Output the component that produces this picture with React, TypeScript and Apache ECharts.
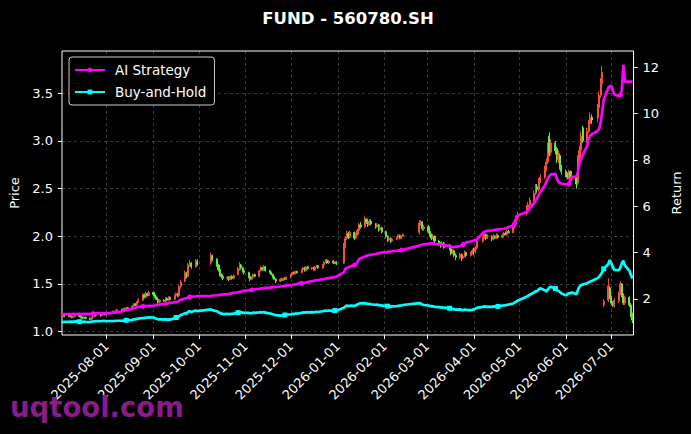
import React, { useEffect, useRef } from 'react';
import * as echarts from 'echarts';

const TITLE = 'FUND - 560780.SH';
const WATERMARK = 'uqtool.com';
const SERIES_AI = 'AI Strategy';
const SERIES_BH = 'Buy-and-Hold';

// trading days, month by month
const months = ['2025-07', '2025-08', '2025-09', '2025-10', '2025-11', '2025-12', '2026-01', '2026-02', '2026-03', '2026-04', '2026-05', '2026-06', '2026-07'];
const monthDays = [
  [2, 3, 4, 7, 8, 9, 10, 11, 14, 15, 16, 17, 18, 21, 22, 23, 24, 25, 28, 29, 30, 31],
  [1, 4, 5, 6, 7, 8, 11, 12, 13, 14, 15, 18, 19, 20, 21, 22, 25, 26, 27, 28, 29],
  [1, 2, 3, 4, 5, 8, 9, 10, 11, 12, 15, 16, 17, 18, 19, 22, 23, 24, 25, 26, 29, 30],
  [9, 10, 13, 14, 15, 16, 17, 20, 21, 22, 23, 24, 27, 28, 29, 30, 31],
  [3, 4, 5, 6, 7, 10, 11, 12, 13, 14, 17, 18, 19, 20, 21, 24, 25, 26, 27, 28],
  [1, 2, 3, 4, 5, 8, 9, 10, 11, 12, 15, 16, 17, 18, 19, 22, 23, 24, 25, 26, 29, 30, 31],
  [5, 6, 7, 8, 9, 12, 13, 14, 15, 16, 19, 20, 21, 22, 23, 26, 27, 28, 29, 30],
  [2, 3, 4, 5, 6, 9, 10, 11, 12, 13, 24, 25, 26, 27],
  [2, 3, 4, 5, 6, 9, 10, 11, 12, 13, 16, 17, 18, 19, 20, 23, 24, 25, 26, 27, 30, 31],
  [1, 2, 3, 7, 8, 9, 10, 13, 14, 15, 16, 17, 20, 21, 22, 23, 24, 27, 28, 29, 30],
  [6, 7, 8, 11, 12, 13, 14, 15, 18, 19, 20, 21, 22, 25, 26, 27, 28, 29],
  [1, 2, 3, 4, 5, 8, 9, 10, 11, 12, 15, 16, 17, 18, 22, 23, 24, 25, 26, 29, 30],
  [1, 2, 3, 6, 7, 8, 9, 10, 13, 14, 15],
];

const opens = [
  1.15, 1.16, 1.17, 1.16, 1.17, 1.16, 1.15, 1.16, 1.17, 1.16, 1.15, 1.14, 1.15, 1.14, 1.13, 1.15, 1.16, 1.17, 1.18, 1.17, 1.18, 1.19,
  1.18, 1.19, 1.20, 1.21, 1.20, 1.22, 1.23, 1.22, 1.24, 1.23, 1.25, 1.24, 1.27, 1.29, 1.28, 1.31, 1.33, 1.39, 1.36, 1.40, 1.38,
  1.41, 1.39, 1.36, 1.34, 1.31, 1.33, 1.32, 1.35, 1.33, 1.36, 1.34, 1.38, 1.40, 1.38, 1.47, 1.53, 1.62, 1.58, 1.70, 1.72, 1.68, 1.74,
  1.72, 1.80, 1.76, 1.70, 1.65, 1.60, 1.58, 1.56, 1.57, 1.55, 1.58, 1.56, 1.60, 1.66, 1.70, 1.67, 1.64,
  1.62, 1.58, 1.55, 1.57, 1.60, 1.58, 1.64, 1.67, 1.65, 1.68, 1.64, 1.62, 1.60, 1.57, 1.55, 1.53, 1.55, 1.54, 1.56, 1.55,
  1.57, 1.60, 1.62, 1.61, 1.63, 1.62, 1.65, 1.67, 1.64, 1.68, 1.66, 1.67, 1.65, 1.68, 1.69, 1.67, 1.70, 1.73, 1.75, 1.72, 1.74, 1.72, 1.73,
  1.72, 1.90, 1.98, 2.03, 1.99, 2.04, 1.98, 2.02, 2.06, 2.12, 2.10, 2.18, 2.15, 2.12, 2.16, 2.13, 2.10, 2.12, 2.07, 2.09,
  2.05, 2.00, 1.96, 1.98, 1.95, 1.97, 1.99, 2.01, 1.98, 2.00, 2.04, 2.14, 2.15, 2.08,
  2.10, 2.05, 2.02, 1.98, 2.00, 1.95, 1.92, 1.90, 1.93, 1.89, 1.91, 1.87, 1.82, 1.85, 1.80, 1.78, 1.81, 1.77, 1.79, 1.83, 1.80, 1.82,
  1.86, 1.84, 1.88, 1.95, 1.99, 2.02, 1.98, 2.00, 1.97, 2.00, 1.98, 2.01, 1.99, 2.01, 2.03, 2.02, 2.05, 2.04, 2.10, 2.15, 2.19,
  2.24, 2.30, 2.33, 2.38, 2.45, 2.52, 2.49, 2.58, 2.62, 2.70, 2.78, 3.05, 2.88, 2.98, 2.92, 2.80, 2.85, 2.72,
  2.68, 2.65, 2.62, 2.68, 2.60, 2.63, 2.56, 2.82, 2.90, 3.14, 3.00, 3.10, 3.18, 3.25, 3.24, 3.35, 3.48, 3.60, 1.28, 1.33, 1.46,
  1.36, 1.30, 1.27, 1.32, 1.40, 1.50, 1.38, 1.30, 1.36, 1.28, 1.18,
];
const closes = [
  1.16, 1.17, 1.16, 1.17, 1.16, 1.15, 1.16, 1.17, 1.16, 1.15, 1.14, 1.15, 1.14, 1.13, 1.15, 1.16, 1.17, 1.18, 1.17, 1.18, 1.19, 1.18,
  1.19, 1.20, 1.21, 1.20, 1.22, 1.23, 1.22, 1.24, 1.23, 1.25, 1.24, 1.27, 1.29, 1.28, 1.31, 1.33, 1.38, 1.36, 1.40, 1.38, 1.41,
  1.39, 1.36, 1.34, 1.31, 1.33, 1.32, 1.35, 1.33, 1.36, 1.34, 1.38, 1.40, 1.37, 1.47, 1.52, 1.62, 1.58, 1.70, 1.72, 1.68, 1.74, 1.71,
  1.80, 1.76, 1.70, 1.65, 1.60, 1.58, 1.56, 1.57, 1.55, 1.58, 1.56, 1.59, 1.66, 1.70, 1.67, 1.64, 1.62,
  1.58, 1.55, 1.57, 1.60, 1.58, 1.64, 1.67, 1.65, 1.68, 1.64, 1.62, 1.60, 1.57, 1.55, 1.53, 1.55, 1.54, 1.56, 1.55, 1.57,
  1.60, 1.62, 1.61, 1.63, 1.62, 1.65, 1.67, 1.64, 1.68, 1.66, 1.67, 1.65, 1.68, 1.69, 1.67, 1.70, 1.73, 1.75, 1.72, 1.74, 1.72, 1.73, 1.71,
  1.90, 1.98, 2.03, 1.99, 2.04, 1.98, 2.02, 2.06, 2.12, 2.10, 2.18, 2.15, 2.12, 2.16, 2.13, 2.10, 2.12, 2.07, 2.09, 2.05,
  2.00, 1.96, 1.98, 1.95, 1.97, 1.99, 2.01, 1.98, 2.00, 2.02, 2.14, 2.15, 2.08, 2.10,
  2.05, 2.02, 1.98, 2.00, 1.95, 1.92, 1.90, 1.93, 1.89, 1.91, 1.87, 1.82, 1.85, 1.80, 1.78, 1.81, 1.77, 1.79, 1.83, 1.80, 1.82, 1.85,
  1.84, 1.88, 1.95, 1.99, 2.02, 1.98, 2.00, 1.97, 2.00, 1.98, 2.01, 1.99, 2.01, 2.03, 2.02, 2.05, 2.04, 2.10, 2.15, 2.19, 2.22,
  2.30, 2.33, 2.38, 2.45, 2.52, 2.49, 2.58, 2.62, 2.70, 2.78, 2.95, 2.88, 2.98, 2.90, 2.80, 2.85, 2.72, 2.68,
  2.65, 2.62, 2.68, 2.60, 2.63, 2.55, 2.82, 2.90, 3.05, 3.00, 3.10, 3.18, 3.25, 3.22, 3.35, 3.48, 3.60, 3.72, 1.32, 1.48, 1.36,
  1.30, 1.28, 1.33, 1.40, 1.50, 1.38, 1.30, 1.36, 1.28, 1.18, 1.12,
];
const lows = [
  1.14, 1.15, 1.15, 1.15, 1.15, 1.14, 1.14, 1.15, 1.15, 1.14, 1.13, 1.13, 1.13, 1.12, 1.12, 1.14, 1.15, 1.16, 1.16, 1.16, 1.17, 1.17,
  1.17, 1.18, 1.19, 1.19, 1.19, 1.21, 1.21, 1.21, 1.22, 1.22, 1.23, 1.23, 1.26, 1.27, 1.27, 1.30, 1.32, 1.35, 1.35, 1.37, 1.37,
  1.37, 1.35, 1.33, 1.29, 1.30, 1.31, 1.31, 1.32, 1.32, 1.33, 1.33, 1.37, 1.36, 1.37, 1.45, 1.52, 1.56, 1.57, 1.68, 1.66, 1.67, 1.69,
  1.70, 1.74, 1.68, 1.63, 1.58, 1.56, 1.54, 1.54, 1.53, 1.54, 1.55, 1.55, 1.59, 1.64, 1.65, 1.62, 1.60,
  1.56, 1.53, 1.54, 1.56, 1.57, 1.57, 1.63, 1.64, 1.64, 1.63, 1.61, 1.59, 1.56, 1.54, 1.51, 1.52, 1.53, 1.53, 1.54, 1.54,
  1.56, 1.59, 1.60, 1.60, 1.61, 1.61, 1.64, 1.63, 1.63, 1.65, 1.65, 1.64, 1.64, 1.67, 1.66, 1.66, 1.69, 1.72, 1.71, 1.71, 1.71, 1.71, 1.70,
  1.71, 1.88, 1.96, 1.97, 1.98, 1.96, 1.97, 2.01, 2.05, 2.08, 2.09, 2.13, 2.10, 2.11, 2.12, 2.08, 2.09, 2.05, 2.06, 2.03,
  1.98, 1.94, 1.95, 1.93, 1.94, 1.96, 1.98, 1.97, 1.97, 1.99, 2.02, 2.11, 2.06, 2.06,
  2.03, 2.00, 1.96, 1.97, 1.93, 1.90, 1.88, 1.89, 1.87, 1.88, 1.85, 1.80, 1.81, 1.78, 1.75, 1.76, 1.74, 1.76, 1.78, 1.78, 1.79, 1.81,
  1.80, 1.82, 1.86, 1.93, 1.97, 1.96, 1.97, 1.95, 1.96, 1.97, 1.97, 1.98, 1.98, 2.00, 2.01, 2.01, 2.03, 2.03, 2.08, 2.13, 2.17,
  2.22, 2.28, 2.31, 2.36, 2.43, 2.46, 2.47, 2.56, 2.60, 2.68, 2.76, 2.84, 2.85, 2.86, 2.77, 2.77, 2.70, 2.65,
  2.62, 2.60, 2.60, 2.58, 2.58, 2.50, 2.54, 2.78, 2.88, 2.98, 2.98, 3.08, 3.15, 3.18, 3.20, 3.33, 3.45, 3.58, 1.26, 1.31, 1.34,
  1.28, 1.26, 1.25, 1.30, 1.38, 1.36, 1.28, 1.28, 1.26, 1.15, 1.09,
];
const highs = [
  1.17, 1.18, 1.18, 1.18, 1.18, 1.17, 1.17, 1.18, 1.18, 1.17, 1.16, 1.16, 1.16, 1.15, 1.16, 1.17, 1.18, 1.19, 1.19, 1.19, 1.20, 1.20,
  1.20, 1.21, 1.22, 1.22, 1.23, 1.24, 1.24, 1.25, 1.25, 1.26, 1.26, 1.28, 1.30, 1.30, 1.32, 1.35, 1.40, 1.40, 1.42, 1.41, 1.43,
  1.42, 1.40, 1.37, 1.35, 1.34, 1.34, 1.36, 1.36, 1.37, 1.37, 1.39, 1.41, 1.41, 1.49, 1.54, 1.64, 1.63, 1.72, 1.75, 1.73, 1.76, 1.76,
  1.83, 1.81, 1.77, 1.71, 1.66, 1.61, 1.59, 1.58, 1.58, 1.59, 1.59, 1.60, 1.68, 1.73, 1.71, 1.68, 1.65,
  1.63, 1.59, 1.58, 1.61, 1.61, 1.65, 1.69, 1.68, 1.70, 1.69, 1.65, 1.63, 1.61, 1.58, 1.56, 1.56, 1.56, 1.57, 1.57, 1.58,
  1.61, 1.63, 1.63, 1.64, 1.64, 1.66, 1.68, 1.68, 1.69, 1.69, 1.68, 1.68, 1.69, 1.70, 1.70, 1.71, 1.74, 1.76, 1.76, 1.75, 1.75, 1.74, 1.74,
  1.93, 2.00, 2.06, 2.05, 2.06, 2.05, 2.04, 2.08, 2.14, 2.15, 2.21, 2.19, 2.17, 2.18, 2.18, 2.14, 2.14, 2.13, 2.11, 2.10,
  2.06, 2.01, 1.99, 1.99, 1.98, 2.00, 2.02, 2.02, 2.01, 2.03, 2.17, 2.17, 2.16, 2.12,
  2.12, 2.07, 2.03, 2.02, 2.01, 1.96, 1.94, 1.95, 1.94, 1.93, 1.92, 1.88, 1.87, 1.86, 1.82, 1.83, 1.82, 1.81, 1.85, 1.84, 1.84, 1.87,
  1.88, 1.90, 1.97, 2.01, 2.05, 2.03, 2.02, 2.01, 2.02, 2.01, 2.03, 2.02, 2.03, 2.05, 2.05, 2.07, 2.07, 2.12, 2.18, 2.22, 2.26,
  2.33, 2.36, 2.41, 2.48, 2.55, 2.55, 2.61, 2.65, 2.74, 2.82, 2.98, 3.09, 3.02, 3.00, 2.94, 2.90, 2.87, 2.75,
  2.70, 2.67, 2.70, 2.69, 2.65, 2.65, 2.85, 2.95, 3.10, 3.16, 3.14, 3.22, 3.30, 3.28, 3.39, 3.52, 3.66, 3.79, 1.34, 1.56, 1.48,
  1.38, 1.32, 1.35, 1.42, 1.53, 1.51, 1.40, 1.38, 1.37, 1.30, 1.20,
];

const aiStrategy = [
  1.34, 1.34, 1.35, 1.35, 1.34, 1.35, 1.36, 1.35, 1.36, 1.35, 1.35, 1.36, 1.36, 1.35, 1.37, 1.37, 1.38, 1.38, 1.39, 1.39, 1.38, 1.39,
  1.39, 1.40, 1.41, 1.42, 1.42, 1.43, 1.46, 1.48, 1.50, 1.52, 1.53, 1.58, 1.60, 1.62, 1.64, 1.66, 1.68, 1.69, 1.69, 1.70, 1.70,
  1.71, 1.72, 1.73, 1.75, 1.76, 1.79, 1.80, 1.80, 1.82, 1.83, 1.86, 1.87, 1.88, 1.93, 1.96, 2.02, 2.04, 2.07, 2.09, 2.10, 2.11, 2.12,
  2.14, 2.15, 2.16, 2.17, 2.18, 2.19, 2.20, 2.21, 2.22, 2.23, 2.25, 2.26, 2.29, 2.31, 2.32, 2.34, 2.35,
  2.37, 2.38, 2.39, 2.40, 2.42, 2.44, 2.45, 2.46, 2.47, 2.48, 2.49, 2.50, 2.50, 2.51, 2.52, 2.54, 2.55, 2.56, 2.57, 2.58,
  2.60, 2.61, 2.62, 2.63, 2.65, 2.68, 2.69, 2.70, 2.71, 2.73, 2.77, 2.78, 2.80, 2.81, 2.82, 2.85, 2.86, 2.88, 2.89, 2.90, 2.93, 2.95, 2.96,
  3.15, 3.30, 3.34, 3.37, 3.40, 3.46, 3.50, 3.60, 3.70, 3.76, 3.83, 3.86, 3.88, 3.90, 3.91, 3.94, 3.96, 3.97, 3.99, 4.00,
  4.02, 4.03, 4.04, 4.05, 4.06, 4.08, 4.09, 4.10, 4.11, 4.12, 4.30, 4.33, 4.35, 4.37,
  4.38, 4.40, 4.41, 4.40, 4.38, 4.36, 4.35, 4.33, 4.32, 4.31, 4.28, 4.26, 4.25, 4.24, 4.25, 4.28, 4.32, 4.35, 4.40, 4.44, 4.48, 4.50,
  4.52, 4.54, 4.57, 4.85, 4.90, 4.92, 4.94, 4.96, 4.97, 4.98, 4.99, 5.00, 5.02, 5.03, 5.05, 5.07, 5.10, 5.18, 5.25, 5.40, 5.60,
  5.75, 5.80, 5.90, 6.15, 6.25, 6.35, 6.50, 6.60, 6.90, 7.05, 7.20, 7.30, 7.38, 7.40, 7.20, 7.05, 7.00, 6.98,
  6.95, 6.94, 6.96, 7.20, 7.27, 7.28, 7.50, 7.85, 8.05, 8.20, 8.60, 8.90, 9.05, 9.10, 9.25, 9.35, 9.60, 10.10, 10.60, 11.10, 11.18,
  11.20, 11.00, 10.82, 10.75, 10.80, 11.00, 12.10, 11.38, 11.38, 11.38, 11.38,
];
const buyAndHold = [
  1.00, 1.00, 1.01, 1.01, 1.02, 1.01, 1.02, 1.03, 1.02, 1.02, 1.01, 1.02, 1.01, 1.00, 1.02, 1.03, 1.04, 1.05, 1.04, 1.05, 1.06, 1.05,
  1.04, 1.05, 1.05, 1.05, 1.06, 1.06, 1.06, 1.07, 1.07, 1.08, 1.08, 1.10, 1.12, 1.12, 1.14, 1.15, 1.18, 1.17, 1.20, 1.19, 1.21,
  1.20, 1.17, 1.15, 1.12, 1.13, 1.11, 1.13, 1.10, 1.12, 1.11, 1.17, 1.20, 1.19, 1.26, 1.30, 1.39, 1.37, 1.46, 1.47, 1.44, 1.50, 1.48,
  1.55, 1.52, 1.47, 1.43, 1.39, 1.37, 1.35, 1.36, 1.34, 1.36, 1.35, 1.37, 1.41, 1.44, 1.42, 1.41, 1.40,
  1.40, 1.38, 1.39, 1.41, 1.40, 1.42, 1.43, 1.42, 1.44, 1.41, 1.38, 1.36, 1.34, 1.32, 1.30, 1.28, 1.29, 1.30, 1.31, 1.33,
  1.34, 1.36, 1.35, 1.37, 1.37, 1.40, 1.42, 1.41, 1.43, 1.42, 1.43, 1.42, 1.44, 1.45, 1.44, 1.47, 1.49, 1.50, 1.48, 1.50, 1.49, 1.50, 1.49,
  1.62, 1.68, 1.72, 1.69, 1.71, 1.70, 1.73, 1.76, 1.80, 1.81, 1.82, 1.80, 1.78, 1.79, 1.77, 1.75, 1.76, 1.73, 1.74, 1.71,
  1.70, 1.69, 1.68, 1.67, 1.68, 1.69, 1.70, 1.71, 1.72, 1.74, 1.82, 1.80, 1.76, 1.74,
  1.72, 1.70, 1.68, 1.69, 1.66, 1.65, 1.63, 1.64, 1.62, 1.63, 1.60, 1.57, 1.58, 1.55, 1.54, 1.55, 1.53, 1.52, 1.54, 1.53, 1.52, 1.53,
  1.55, 1.58, 1.62, 1.66, 1.68, 1.66, 1.67, 1.66, 1.68, 1.67, 1.69, 1.68, 1.71, 1.73, 1.72, 1.75, 1.76, 1.80, 1.84, 1.88, 1.92,
  2.10, 2.14, 2.18, 2.28, 2.35, 2.32, 2.42, 2.46, 2.38, 2.32, 2.40, 2.50, 2.53, 2.45, 2.38, 2.35, 2.30, 2.24,
  2.16, 2.20, 2.26, 2.24, 2.28, 2.20, 2.40, 2.53, 2.60, 2.62, 2.68, 2.72, 2.75, 2.78, 2.90, 2.96, 3.05, 3.15, 3.30, 3.50, 3.68,
  3.55, 3.38, 3.26, 3.24, 3.35, 3.55, 3.65, 3.45, 3.22, 3.05, 2.88,
];

const priceTicks = [1.0, 1.5, 2.0, 2.5, 3.0, 3.5];
const returnTicks = [2, 4, 6, 8, 10, 12];
const dateTicks = ['2025-08-01', '2025-09-01', '2025-10-01', '2025-11-01', '2025-12-01', '2026-01-01', '2026-02-01', '2026-03-01', '2026-04-01', '2026-05-01', '2026-06-01', '2026-07-01'];

const UP = '#f0503c';
const DOWN = '#66e83c';
const MAGENTA = '#ff00ff';
const CYAN = '#00ffff';
const FONT = 'DejaVu Sans';

const pad2 = (n: number) => String(n).padStart(2, '0');
const toTs = (s: string) => {
  const [y, m, d] = s.split('-').map(Number);
  return Date.UTC(y, m - 1, d);
};
const fmtDate = (v: number) => {
  const d = new Date(v);
  return `${d.getUTCFullYear()}-${pad2(d.getUTCMonth() + 1)}-${pad2(d.getUTCDate())}`;
};

const dates: string[] = [];
months.forEach((m, i) => monthDays[i].forEach((d) => dates.push(`${m}-${pad2(d)}`)));

export default function App() {
  const ref = useRef<HTMLDivElement>(null);
  useEffect(() => {
    if (!ref.current) return;
    const chart = echarts.init(ref.current, null, { renderer: 'svg' });
    const xs = dates.map(toTs);
    const tickTs = dateTicks.map(toTs);
    const candleData = xs.map((x, i) => [x, opens[i], closes[i], lows[i], highs[i]]);
    const lineData = (vals: number[], sym: string, phase: number) =>
      xs.map((x, i) => ({ value: [x, vals[i]], symbol: i % 23 === phase ? sym : 'none' }));
    const gridLine = { show: true, lineStyle: { color: 'rgba(255,255,255,0.28)', type: [3, 3] as any, width: 0.8 } };
    const tick = { show: true, length: 4, lineStyle: { color: '#fff', width: 1 } };

    chart.setOption({
      animation: false,
      backgroundColor: '#000',
      grid: { left: 62, right: 57, top: 51, bottom: 99, show: true, borderColor: '#fff', borderWidth: 1, backgroundColor: '#000' },
      legend: {
        left: 69,
        top: 57,
        orient: 'vertical',
        data: [SERIES_AI, SERIES_BH],
        itemWidth: 30,
        itemHeight: 6,
        itemGap: 8,
        padding: [6, 8, 6, 5],
        backgroundColor: '#000',
        borderColor: 'rgba(255,255,255,0.8)',
        borderWidth: 1,
        borderRadius: 3,
        textStyle: { color: '#fff', fontSize: 13.5, fontFamily: FONT, padding: [0, 0, 0, 5], lineHeight: 14 },
      },
      xAxis: {
        type: 'value',
        min: Date.UTC(2025, 6, 2, 10, 30),
        max: Date.UTC(2026, 6, 15, 18, 0),
        axisLine: { show: false },
        axisTick: { ...tick, customValues: tickTs },
        axisLabel: {
          customValues: tickTs,
          formatter: (v: number) => fmtDate(v),
          rotate: 45,
          color: '#fff',
          fontSize: 13,
          fontFamily: FONT,
          margin: 9,
        },
        splitLine: gridLine,
      },
      yAxis: [
        {
          type: 'value',
          position: 'left',
          min: 0.965,
          max: 3.944,
          axisLine: { show: false },
          axisTick: { ...tick, customValues: priceTicks },
          axisLabel: { customValues: priceTicks, formatter: (v: number) => v.toFixed(1), color: '#fff', fontSize: 13, fontFamily: FONT, margin: 9 },
          splitLine: gridLine,
          name: 'Price',
          nameLocation: 'middle',
          nameGap: 35,
          nameTextStyle: { color: '#fff', fontSize: 13, fontFamily: FONT },
        },
        {
          type: 'value',
          position: 'right',
          min: 0.446,
          max: 12.7,
          axisLine: { show: false },
          axisTick: { ...tick, customValues: returnTicks },
          axisLabel: { customValues: returnTicks, formatter: (v: number) => String(v), color: '#fff', fontSize: 13, fontFamily: FONT, margin: 9 },
          splitLine: { show: false },
          name: 'Return',
          nameLocation: 'middle',
          nameGap: 33,
          nameTextStyle: { color: '#fff', fontSize: 13, fontFamily: FONT },
        },
      ],
      series: [
        {
          type: 'candlestick',
          name: 'Price',
          xAxisIndex: 0,
          yAxisIndex: 0,
          data: candleData,
          encode: { x: 0, y: [1, 2, 3, 4] },
          barWidth: 1.6,
          itemStyle: { color: UP, color0: DOWN, borderColor: UP, borderColor0: DOWN, borderWidth: 1 },
          z: 2,
        },
        {
          type: 'line',
          name: SERIES_AI,
          xAxisIndex: 0,
          yAxisIndex: 1,
          data: lineData(aiStrategy, 'circle', 15),
          symbol: 'circle',
          symbolSize: 5,
          showSymbol: true,
          showAllSymbol: true,
          lineStyle: { color: MAGENTA, width: 2.7 },
          itemStyle: { color: MAGENTA },
          z: 4,
        },
        {
          type: 'line',
          name: SERIES_BH,
          xAxisIndex: 0,
          yAxisIndex: 1,
          data: lineData(buyAndHold, 'rect', 8),
          symbol: 'rect',
          symbolSize: 5,
          showSymbol: true,
          showAllSymbol: true,
          lineStyle: { color: CYAN, width: 2.7 },
          itemStyle: { color: CYAN },
          z: 4,
        },
      ],
      graphic: [
        {
          type: 'text',
          x: 348,
          y: 18,
          style: { text: TITLE, fill: '#fff', font: `bold 16.5px "${FONT}"`, textAlign: 'center', textVerticalAlign: 'middle' },
          z: 10,
        },
        {
          type: 'text',
          x: 10,
          y: 407,
          style: { text: WATERMARK, fill: '#8b1a8b', font: `bold 27.5px "${FONT}"`, textAlign: 'left', textVerticalAlign: 'middle' },
          z: 100,
        },
      ],
    });
    return () => chart.dispose();
  }, []);
  return <div ref={ref} style={{ position: 'fixed', left: 0, top: 0, width: 691, height: 434, background: '#000' }} />;
}
